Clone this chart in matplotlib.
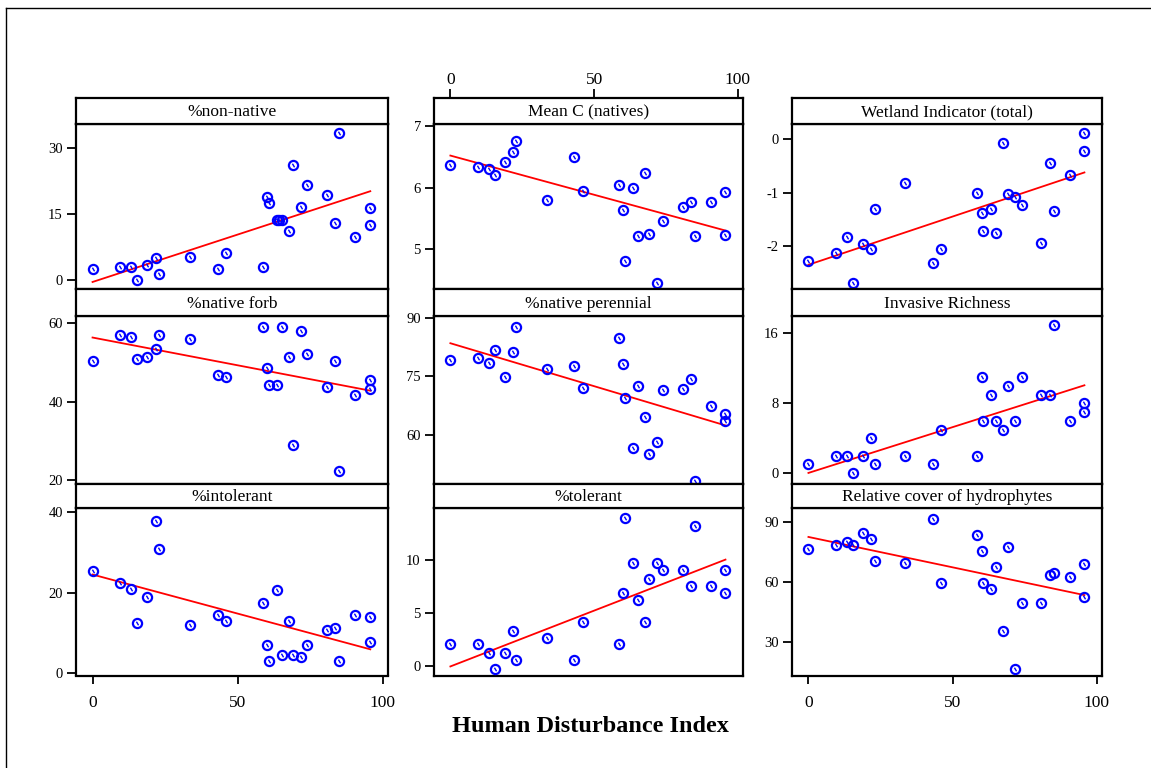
"""Scatter panels of wetland metrics against the Human Disturbance Index."""

import numpy as np
import matplotlib
matplotlib.use("Agg")
import matplotlib.pyplot as plt
from matplotlib.lines import Line2D

plt.rcParams["font.family"] = ["Liberation Serif", "DejaVu Serif"]
plt.rcParams["axes.unicode_minus"] = False

# Human Disturbance Index of each site (shared by all panels)
hdi = [0, 9.6, 13.3, 15.4, 18.9, 21.8, 23.0, 33.5, 43.1, 46.0, 58.6, 60.1, 60.7,
       63.4, 64.3, 65.2, 67.6, 69.2, 71.8, 74.0, 80.8, 83.6, 85.0, 90.6, 95.5, 95.7]

nan = np.nan
pct_non_native = [2.5, 3.0, 3.0, 0.0, 3.4, 4.9, 1.3, 5.3, 2.5, 6.2, 3.0, 18.9, 17.5,
                  13.6, 13.6, 13.6, 11.2, 26.1, 16.6, 21.5, 19.3, 13.0, 33.4, 9.8, 16.3, 12.6]
mean_c_natives = [6.37, 6.34, 6.30, 6.21, 6.41, 6.57, 6.76, 5.79, 6.50, 5.95, 6.04, 5.63, 4.81,
                  5.99, nan, 5.21, 6.24, 5.24, 4.46, 5.46, 5.69, 5.76, 5.21, 5.76, 5.92, 5.23]
wetland_indicator = [-2.29, -2.13, -1.83, -2.70, -1.97, -2.07, -1.30, -0.82, -2.32, -2.06, -1.00,
                     -1.38, -1.72, -1.30, nan, -1.76, -0.06, -1.03, -1.08, -1.24, -1.94, -0.44,
                     -1.34, -0.67, 0.13, -0.21]
pct_native_forb = [50.4, 57.0, 56.6, 50.9, 51.5, 53.4, 57.0, 56.0, 46.8, 46.4, 59.1, 48.5, 44.3,
                   44.3, nan, 59.1, 51.5, 28.9, 58.1, 52.1, 43.8, 50.4, 22.4, 41.7, 45.5, 43.2]
pct_native_perennial = [79.1, 79.6, 78.4, 81.8, 74.7, 81.2, 87.6, 76.9, 77.5, 72.0, 84.9, 78.0, 69.3,
                        56.6, nan, 72.6, 64.6, 55.1, 58.2, 71.4, 71.6, 74.2, 48.1, 67.4, 65.2, 63.6]
invasive_richness = [1, 2, 2, 0, 2, 4, 1, 2, 1, 5, 2, 11, 6,
                     9, nan, 6, 5, 10, 6, 11, 9, 9, 17, 6, 8, 7]
pct_intolerant = [25.4, 22.4, 20.9, 12.5, 19.0, 37.7, 30.8, 12.0, 14.5, 13.0, 17.5, 7.1, 3.1,
                  20.5, nan, 4.6, 13.0, 4.6, 4.1, 7.1, 10.6, 11.1, 3.1, 14.5, 14.0, 7.7]
pct_tolerant = [2.0, 2.0, 1.2, -0.3, 1.2, 3.3, 0.5, 2.6, 0.5, 4.1, 2.0, 6.9, 13.9,
                9.7, nan, 6.2, 4.1, 8.2, 9.7, 9.0, 9.0, 7.5, 13.2, 7.5, 9.0, 6.9]
rel_cover_hydrophytes = [76.5, 78.5, 79.8, 78.5, 84.7, 81.5, 70.5, 69.3, 91.5, 59.7, 83.5, 75.7, 59.7,
                         56.5, nan, 67.3, 35.7, 77.7, 16.5, 49.7, 49.7, 63.5, 64.7, 62.7, 68.8, 52.7]

titles = ["%non-native", "Mean C (natives)", "Wetland Indicator (total)",
          "%native forb", "%native perennial", "Invasive Richness",
          "%intolerant", "%tolerant", "Relative cover of hydrophytes"]
series = [pct_non_native, mean_c_natives, wetland_indicator,
          pct_native_forb, pct_native_perennial, invasive_richness,
          pct_intolerant, pct_tolerant, rel_cover_hydrophytes]
y_ticks = [[0, 15, 30], [5, 6, 7], [-2, -1, 0],
           [20, 40, 60], [60, 75, 90], [0, 8, 16],
           [0, 20, 40], [0, 5, 10], [30, 60, 90]]
y_limits = [(-2.1, 35.4), (4.35, 7.03), (-2.82, 0.29),
            (19.05, 61.9), (47.4, 90.45), (-1.2, 18.0),
            (-0.55, 41.0), (-0.93, 14.9), (13.25, 97.2)]
x_ticks = [0, 50, 100]
x_limits = (-5.7, 101.8)

W, H = 1151, 768
col_px = [(76, 388), (434, 743), (792, 1102)]
row_px = [(124, 289.3), (316, 483.7), (507.7, 675.5)]
strip_px = [(97.5, 124), (289.3, 316), (483.7, 507.7)]

fig = plt.figure(figsize=(W / 100, H / 100), dpi=100)


def frac_box(x0, x1, y0, y1):
    return [x0 / W, 1 - y1 / H, (x1 - x0) / W, (y1 - y0) / H]


slash = [(-0.35, 0.6), (0.35, -0.6)]

for i, (title, yvals) in enumerate(zip(titles, series)):
    r, c = divmod(i, 3)
    x0, x1 = col_px[c]
    ax = fig.add_axes(frac_box(x0, x1, *row_px[r]))
    st = fig.add_axes(frac_box(x0, x1, *strip_px[r]))

    xs = np.array(hdi, dtype=float)
    ys = np.array(yvals, dtype=float)
    ok = ~np.isnan(ys)
    xs, ys = xs[ok], ys[ok]

    ax.plot(xs, ys, "o", ms=6.6, mfc="none", mec="#0000ff", mew=1.6, zorder=3)
    ax.plot(xs, ys, marker=slash, ls="none", ms=2.6, mfc="none", mec="#0000ff", mew=1.0, zorder=3)
    slope, icpt = np.polyfit(xs, ys, 1)
    xl = np.array([xs.min(), xs.max()])
    ax.plot(xl, icpt + slope * xl, color="#ff0000", lw=1.3, zorder=2)

    ax.set_xlim(x_limits)
    ax.set_ylim(y_limits[i])
    ax.set_yticks(y_ticks[i])
    ax.tick_params(axis="y", direction="out", length=6.5, width=1.3, pad=3, labelsize=10.5)
    if r == 2 and c != 1:
        ax.set_xticks(x_ticks)
        ax.tick_params(axis="x", direction="out", length=6, width=1.3, pad=8, labelsize=12.5)
    else:
        ax.set_xticks([])
    for sp in ax.spines.values():
        sp.set_linewidth(1.6)

    st.set_xlim(x_limits)
    st.set_yticks([])
    if r == 0 and c == 1:
        st.set_xticks(x_ticks)
        st.xaxis.tick_top()
        st.tick_params(axis="x", direction="out", length=6.5, width=1.3, pad=0.5, labelsize=12.5)
    else:
        st.set_xticks([])
    for sp in st.spines.values():
        sp.set_linewidth(1.6)
    st.text(0.5, 0.45, title, transform=st.transAxes, ha="center", va="center", fontsize=12.5)

fig.text(590 / W, 1 - 727 / H, "Human Disturbance Index", ha="center", va="center",
         fontsize=17.5, fontweight="bold")

# outer frame lines (top and left only, as in the original export)
fig.add_artist(Line2D([6.3 / W, 1], [1 - 8 / H, 1 - 8 / H], color="black", lw=1.0))
fig.add_artist(Line2D([6.3 / W, 6.3 / W], [0, 1 - 8 / H], color="black", lw=1.0))

fig.savefig("out.png", dpi=100)
